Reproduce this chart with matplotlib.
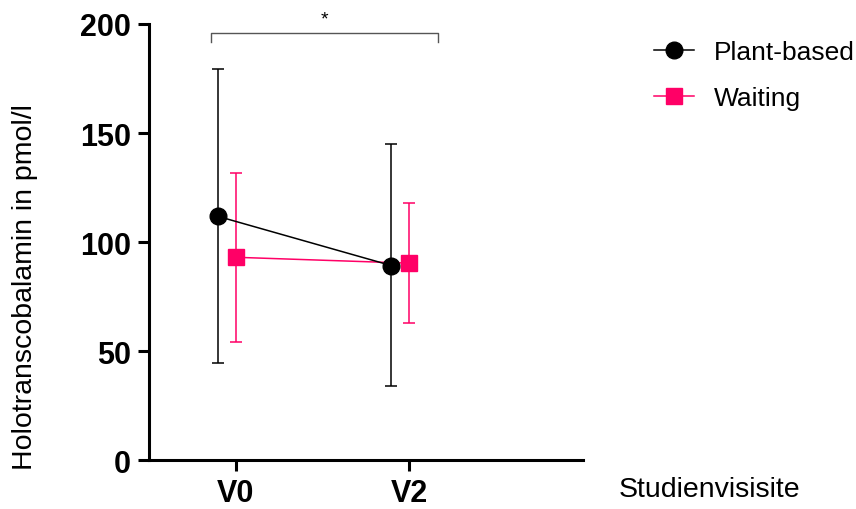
import numpy as np
import matplotlib
matplotlib.use("Agg")
import matplotlib.pyplot as plt
from matplotlib.lines import Line2D

plt.rcParams['font.family'] = ['Liberation Sans', 'DejaVu Sans']

# study visits
visits = ['V0', 'V2']

# means and error bar ends (pmol/l)
plant_mean = [111.8, 89.2]
plant_low = [44.4, 34.1]
plant_high = [179.5, 145.0]

wait_mean = [93.0, 90.3]
wait_low = [54.3, 62.8]
wait_high = [131.6, 117.9]

pink = '#FF0066'

fig = plt.figure(figsize=(8.56, 5.10), dpi=100)
ax = fig.add_axes([0.174, 0.096, 0.507, 0.855])

x = np.arange(len(visits))
shift = 0.104

wm = np.array(wait_mean)
pm = np.array(plant_mean)

ax.errorbar(x, wm, yerr=[wm - np.array(wait_low), np.array(wait_high) - wm],
            color=pink, marker='s', ms=12, lw=1.1, elinewidth=1.1,
            capsize=4, capthick=1.1, clip_on=False, zorder=3)
ax.errorbar(x - shift, pm, yerr=[pm - np.array(plant_low), np.array(plant_high) - pm],
            color='black', marker='o', ms=12, lw=1.1, elinewidth=1.1,
            capsize=4, capthick=1.1, clip_on=False, zorder=4)

ax.set_xlim(-0.5, 2.0)
ax.set_ylim(0, 200)
ax.set_yticks([0, 50, 100, 150, 200])
ax.set_xticks(x)
ax.set_xticklabels(visits)

for s in ['top', 'right']:
    ax.spines[s].set_visible(False)
for s in ['left', 'bottom']:
    ax.spines[s].set_linewidth(2.2)

ax.tick_params(axis='both', length=8, width=2.2, labelsize=22)
ax.tick_params(axis='x', pad=5)
ax.tick_params(axis='y', pad=5)
for lab in ax.get_xticklabels() + ax.get_yticklabels():
    lab.set_fontweight('bold')

ax.set_ylabel('Holotranscobalamin in pmol/l', fontsize=20.5)
ax.yaxis.set_label_coords(-0.255, 0.398)
fig.text(0.829, 0.04, 'Studienvisisite', fontsize=20.5, ha='center', va='center')

# significance bracket V0 vs V2
bl, br = x[0] - 0.145, x[1] + 0.167
ax.plot([bl, bl, br, br], [191.9, 195.9, 195.9, 191.9], color='#555555', lw=1.0, clip_on=False)
ax.text((bl + br) / 2, 198.5, '*', ha='center', va='bottom', fontsize=14, clip_on=False)

handles = [Line2D([], [], color='black', marker='o', ms=12, lw=1.1),
           Line2D([], [], color=pink, marker='s', ms=12, lw=1.1)]
fig.legend(handles, ['Plant-based', 'Waiting'], loc='upper left',
           bbox_to_anchor=(0.749, 0.945), frameon=False, fontsize=19,
           handlelength=1.5, handletextpad=0.75, labelspacing=0.82, borderpad=0)

fig.savefig('out.png', dpi=100)
